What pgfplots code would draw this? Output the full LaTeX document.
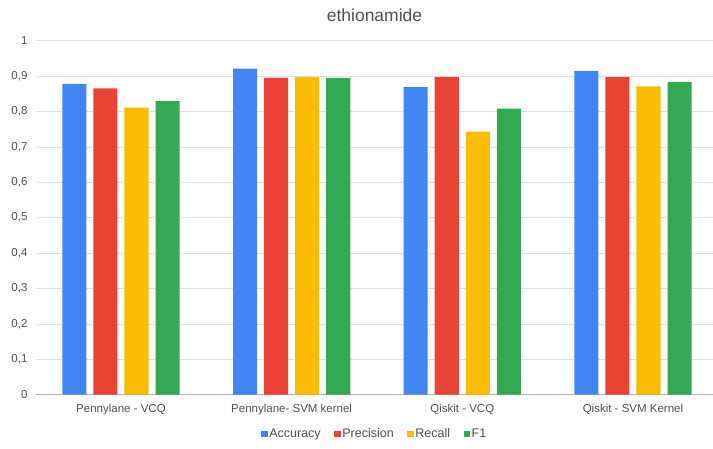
\documentclass[border=0pt]{standalone}
\usepackage{pgfplots}
\pgfplotsset{compat=1.18}
\usepackage{fontspec}
\setmainfont{Liberation Sans}
\definecolor{gblue}{HTML}{4285F4}
\definecolor{gred}{HTML}{EA4335}
\definecolor{gyellow}{HTML}{FBBC04}
\definecolor{ggreen}{HTML}{34A853}
\definecolor{txt}{HTML}{505050}
\definecolor{gridc}{HTML}{E0E0E0}
\definecolor{basec}{HTML}{B0B0B0}

\pgfplotstableread{
x acc prec rec fone
0 0.878 0.865 0.811 0.829
1 0.921 0.895 0.897 0.895
2 0.869 0.897 0.743 0.808
3 0.915 0.897 0.871 0.884
}\scores

\begin{document}
\begin{tikzpicture}
\path[use as bounding box] (0pt,0pt) rectangle (713pt,448pt);
\begin{axis}[
  at={(36pt,53.3pt)}, anchor=south west,
  scale only axis, width=677pt, height=354pt,
  xmin=-0.498, xmax=3.469, ymin=0, ymax=1,
  ytick={0,0.1,...,1.01},
  xtick={0,1,2,3},
  xticklabels={Pennylane - VCQ, Pennylane- SVM kernel, Qiskit - VCQ, Qiskit - SVM Kernel},
  /pgf/number format/.cd, fixed, precision=1, use comma, assume math mode=true, /pgfplots/.cd,
  ticklabel style={font=\fontsize{11.5}{13}\selectfont, text=txt},
  major tick length=0pt,
  xticklabel style={yshift=-6pt},
  yticklabel style={xshift=-5pt},
  axis line style={draw=none},
  ymajorgrids, grid style={gridc, line width=0.8pt},
  extra y ticks={0}, extra y tick labels={},
  extra y tick style={grid style={basec, line width=0.9pt}},
  title={ethionamide},
  title style={font=\fontsize{17.5}{20}\selectfont, text=txt, yshift=9pt},
  legend style={at={(0.5,-0.111)}, anchor=center, draw=none, legend columns=4,
    font=\fontsize{12.5}{14}\selectfont, text=txt,
    nodes={inner xsep=1.5pt},
    /tikz/every even column/.append style={column sep=12pt}},
  legend image code/.code={\fill[#1] (0,-3.3pt) rectangle (6.6pt,3.3pt);},
  legend cell align=left,
]
\addplot[ybar, bar width=0.141, bar shift=-0.273, fill=gblue, draw=none] table[x=x,y=acc]{\scores};
\addplot[ybar, bar width=0.141, bar shift=-0.091, fill=gred, draw=none] table[x=x,y=prec]{\scores};
\addplot[ybar, bar width=0.141, bar shift=0.091, fill=gyellow, draw=none] table[x=x,y=rec]{\scores};
\addplot[ybar, bar width=0.141, bar shift=0.273, fill=ggreen, draw=none] table[x=x,y=fone]{\scores};
\legend{Accuracy, Precision, Recall, F1}
\end{axis}
\end{tikzpicture}
\end{document}
